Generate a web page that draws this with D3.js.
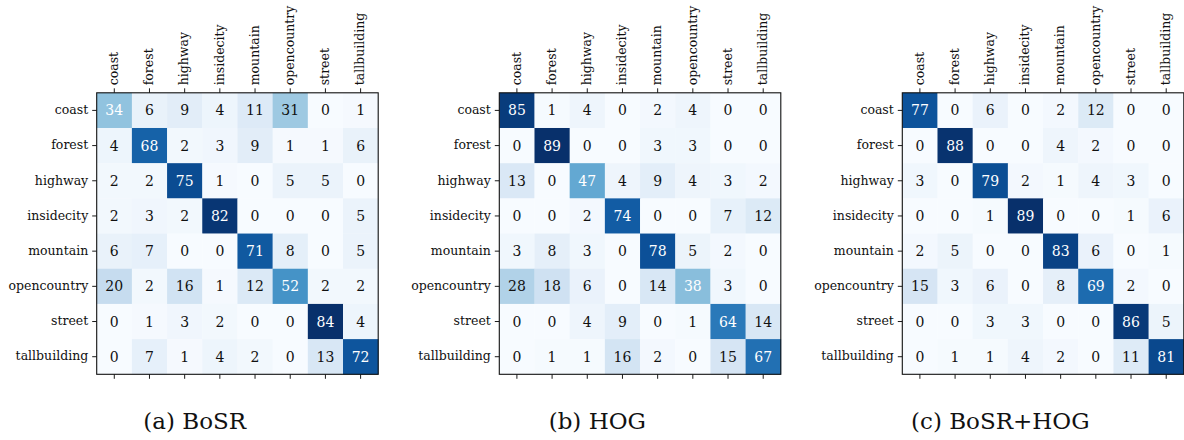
<!DOCTYPE html>
<html>
<head>
<meta charset="utf-8">
<script src="https://cdn.jsdelivr.net/npm/d3@7"></script>
<style>
  body { margin: 0; background: #fff; }
  svg { display: block; }
  text { font-family: "DejaVu Serif", "Liberation Serif", serif; fill: #111; }
  .tick line { stroke: #000; stroke-width: 0.9; }
  .tick text { font-size: 12.5px; font-family: "DejaVu Serif", "Liberation Serif", serif; }
  .cell-num { font-size: 14px; }
  .caption { font-size: 23px; }
</style>
</head>
<body>
<svg width="1184" height="440"></svg>
<script>
// class labels (rows = true, columns = predicted)
var classes = ["coast", "forest", "highway", "insidecity", "mountain", "opencountry", "street", "tallbuilding"];

var bosr = [
  [34, 6, 9, 4, 11, 31, 0, 1],
  [4, 68, 2, 3, 9, 1, 1, 6],
  [2, 2, 75, 1, 0, 5, 5, 0],
  [2, 3, 2, 82, 0, 0, 0, 5],
  [6, 7, 0, 0, 71, 8, 0, 5],
  [20, 2, 16, 1, 12, 52, 2, 2],
  [0, 1, 3, 2, 0, 0, 84, 4],
  [0, 7, 1, 4, 2, 0, 13, 72]
];

var hog = [
  [85, 1, 4, 0, 2, 4, 0, 0],
  [0, 89, 0, 0, 3, 3, 0, 0],
  [13, 0, 47, 4, 9, 4, 3, 2],
  [0, 0, 2, 74, 0, 0, 7, 12],
  [3, 8, 3, 0, 78, 5, 2, 0],
  [28, 18, 6, 0, 14, 38, 3, 0],
  [0, 0, 4, 9, 0, 1, 64, 14],
  [0, 1, 1, 16, 2, 0, 15, 67]
];

var bosrHog = [
  [77, 0, 6, 0, 2, 12, 0, 0],
  [0, 88, 0, 0, 4, 2, 0, 0],
  [3, 0, 79, 2, 1, 4, 3, 0],
  [0, 0, 1, 89, 0, 0, 1, 6],
  [2, 5, 0, 0, 83, 6, 0, 1],
  [15, 3, 6, 0, 8, 69, 2, 0],
  [0, 0, 3, 3, 0, 0, 86, 5],
  [0, 1, 1, 4, 2, 0, 11, 81]
];

var captions = ["(a) BoSR", "(b) HOG", "(c) BoSR+HOG"];

//---------- layout ----------
var panelLeft = [96.7, 499.3, 902.3];
var top0 = 92.8;
var size = 281.5;

var svg = d3.select("svg");

var drawMatrix = function (matrix, left, caption)
{
	var flat = [];
	matrix.forEach(function (row, i) {
		row.forEach(function (v, j) { flat.push({ r: i, c: j, v: v }); });
	});
	var maxV = d3.max(flat, function (d) { return d.v; });

	var xScale = d3.scaleBand().domain(classes).range([0, size]);
	var yScale = d3.scaleBand().domain(classes).range([0, size]);
	var color = d3.scaleSequential(d3.interpolateBlues).domain([0, maxV]);

	var g = svg.append("g")
		.attr("transform", "translate(" + left + "," + top0 + ")");

	g.selectAll("rect.cell")
		.data(flat)
		.enter()
		.append("rect")
		.attr("class", "cell")
		.attr("x", function (d) { return xScale(classes[d.c]); })
		.attr("y", function (d) { return yScale(classes[d.r]); })
		.attr("width", xScale.bandwidth() + 0.3)
		.attr("height", yScale.bandwidth() + 0.3)
		.attr("fill", function (d) { return color(d.v); });

	g.selectAll("text.cell-num")
		.data(flat)
		.enter()
		.append("text")
		.attr("class", "cell-num")
		.attr("x", function (d) { return xScale(classes[d.c]) + xScale.bandwidth() / 2; })
		.attr("y", function (d) { return yScale(classes[d.r]) + yScale.bandwidth() / 2; })
		.attr("dy", "0.36em")
		.attr("text-anchor", "middle")
		.style("fill", function (d) { return d.v > maxV * 0.4 ? "#fff" : "#111"; })
		.text(function (d) { return d.v; });

	// axes
	var topAxis = g.append("g")
		.call(d3.axisTop(xScale).tickSize(4.5).tickPadding(3));
	topAxis.selectAll(".tick text")
		.attr("transform", "rotate(-90)")
		.attr("text-anchor", "start")
		.attr("x", 7.5)
		.attr("y", 0)
		.attr("dy", "0.3em");

	g.append("g")
		.call(d3.axisLeft(yScale).tickSize(4.5).tickPadding(4))
		.selectAll(".tick text")
		.attr("dy", "0.3em");

	g.append("g")
		.attr("transform", "translate(0," + size + ")")
		.call(d3.axisBottom(xScale).tickSize(4.5).tickFormat(""));

	g.selectAll(".domain").remove();

	g.append("rect")
		.attr("width", size)
		.attr("height", size)
		.attr("fill", "none")
		.attr("stroke", "#111")
		.attr("stroke-width", 1.1);

	svg.append("text")
		.attr("class", "caption")
		.attr("x", left + 98)
		.attr("y", 428.5)
		.attr("text-anchor", "middle")
		.text(caption);
};

drawMatrix(bosr, panelLeft[0], captions[0]);
drawMatrix(hog, panelLeft[1], captions[1]);
drawMatrix(bosrHog, panelLeft[2], captions[2]);
</script>
</body>
</html>
